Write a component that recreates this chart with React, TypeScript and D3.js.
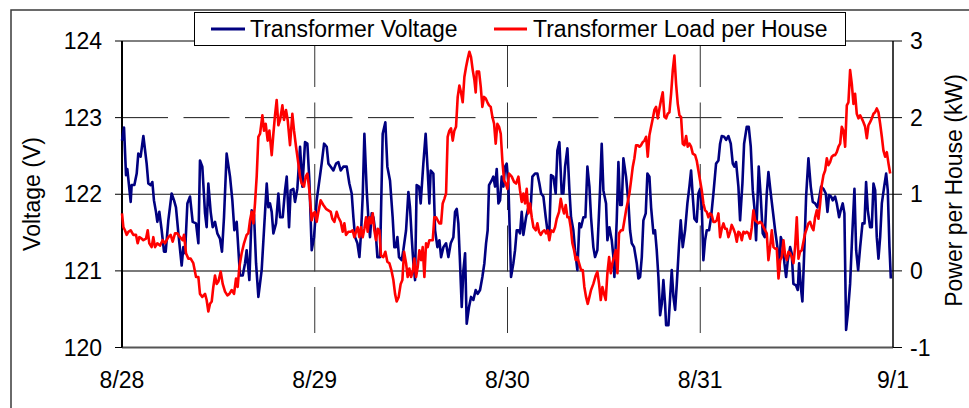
import React from 'react';
import * as d3 from 'd3';

const dayHours = [0, 24, 48, 72, 96];
const dayLabels = ['8/28', '8/29', '8/30', '8/31', '9/1'];
const voltageTicks = [120, 121, 122, 123, 124];
const powerTicks = [-1, 0, 1, 2, 3];
const seriesNames = ['Transformer Voltage', 'Transformer Load per House'];
const axisTitles = ['Voltage (V)', 'Power per House (kW)'];

// [hours since 8/28 00:00, volts]
const voltage: [number, number][] = [
[0,122.70],[0.25,122.87],[0.5,122.25],[0.66,122.33],[1.08,121.90],[1.2,122.12],[1.54,122.12],[1.83,122.27],[2.03,122.53],[2.32,122.49],[2.66,122.76],[3.07,122.40],[3.28,122.14],[3.57,122.12],[3.78,122.16],[3.98,121.92],[4.23,121.77],[4.4,121.64],[4.65,121.77],[4.94,121.53],[5.23,121.25],[5.44,121.25],[5.77,121.66],[6.18,122.01],[6.48,121.92],[6.72,121.83],[7.02,121.49],[7.43,121.07],[7.64,121.31],[7.85,121.23],[8.14,121.88],[8.47,121.97],[8.8,121.64],[9.22,121.62],[9.51,121.36],[9.71,122.44],[10.0,122.36],[10.34,121.75],[10.54,121.57],[10.75,122.14],[11.04,121.77],[11.29,121.57],[11.58,121.64],[11.87,121.49],[12.2,121.42],[12.45,121.25],[12.7,121.70],[13.03,122.53],[13.45,122.23],[13.74,121.92],[13.99,121.53],[14.28,121.64],[14.69,120.94],[15.03,120.94],[15.32,121.10],[15.52,121.27],[15.86,120.88],[16.15,121.79],[16.44,121.73],[16.69,121.10],[16.98,120.66],[17.39,121.01],[17.68,121.53],[18.02,122.14],[18.22,121.83],[18.43,121.88],[18.64,121.77],[18.85,121.49],[19.18,121.62],[19.47,122.01],[19.68,121.70],[20.01,121.70],[20.3,122.05],[20.51,122.23],[20.8,121.57],[21.0,122.05],[21.34,122.07],[21.54,121.90],[21.83,122.07],[22.17,122.62],[22.46,122.10],[22.79,122.68],[23.08,122.66],[23.33,122.18],[23.62,121.27],[23.91,121.44],[24.24,121.92],
[24.86,122.40],[25.16,122.66],[25.49,122.62],[25.7,122.40],[25.99,122.36],[26.32,122.31],[26.65,122.40],[26.94,122.42],[27.23,122.31],[27.56,122.36],[27.98,122.36],[28.31,122.14],[28.6,122.01],[28.81,121.70],[29.02,121.44],[29.31,121.36],[29.56,121.18],[29.76,121.49],[29.97,121.97],[30.18,122.79],[30.47,122.05],[30.67,121.70],[30.88,121.44],[31.09,121.75],[31.3,121.70],[31.63,121.44],[31.8,121.18],[32.13,121.18],[32.46,122.79],[32.79,122.94],[33.04,122.36],[33.37,122.18],[33.7,121.70],[33.91,121.31],[34.12,121.31],[34.29,121.44],[34.49,121.18],[34.83,121.14],[35.03,121.27],[35.37,121.53],[35.66,122.03],[35.86,121.83],[36.07,121.44],[36.28,121.10],[36.49,120.88],[36.69,122.12],[36.99,122.10],[37.19,121.88],[37.52,122.40],[37.81,122.79],[38.06,122.31],[38.27,121.88],[38.44,122.31],[38.77,122.27],[38.98,121.53],[39.27,121.31],[39.52,121.40],[39.73,121.18],[40.02,121.31],[40.35,121.36],[40.64,121.18],[40.93,121.36],[41.26,121.44],[41.47,121.77],[41.68,121.81],[41.88,121.62],[42.09,121.10],[42.3,120.53],[42.51,121.01],[42.72,121.23],[42.92,120.31],[43.21,120.53],[43.46,120.66],[43.75,120.62],[44.04,120.75],[44.29,120.70],[44.58,120.75],[44.87,120.92],[45.12,121.10],[45.33,121.36],[45.53,121.53],[45.7,122.12],[46.03,122.18],[46.24,122.23],[46.45,122.10],[46.66,122.33],[46.87,121.88],[47.07,121.92],[47.28,122.23],[47.49,122.10],[47.7,122.36],[47.9,122.40],[48.11,122.14],
[48.44,120.92],[48.73,121.10],[48.94,121.27],[49.15,121.53],[49.36,121.53],[49.56,121.49],[49.77,121.77],[49.98,121.47],[50.31,121.70],[50.6,121.83],[50.89,121.83],[51.1,122.23],[51.43,122.27],[51.72,122.27],[51.97,122.14],[52.18,122.01],[52.47,121.97],[52.76,121.70],[52.97,121.53],[53.21,121.49],[53.42,122.25],[53.71,122.23],[54.0,122.01],[54.21,122.57],[54.46,122.68],[54.75,122.01],[54.96,122.01],[55.17,122.36],[55.46,122.60],[55.71,122.05],[55.91,121.70],[56.2,121.53],[56.41,121.27],[56.7,121.01],[56.95,121.62],[57.16,121.57],[57.45,121.70],[57.7,121.70],[57.95,122.36],[58.2,122.10],[58.4,121.70],[58.69,121.31],[58.9,121.18],[59.19,121.27],[59.52,122.05],[59.73,122.66],[59.94,122.05],[60.27,121.88],[60.44,121.40],[60.69,121.57],[60.98,121.40],[61.19,121.18],[61.31,120.92],[61.6,121.66],[61.81,122.42],[62.02,121.86],[62.23,121.86],[62.43,122.47],[62.76,122.23],[63.06,121.88],[63.26,121.53],[63.47,121.36],[63.76,121.31],[64.09,121.10],[64.3,120.90],[64.51,120.92],[64.72,121.18],[64.92,121.66],[65.21,121.75],[65.42,122.27],[65.67,122.23],[65.88,121.83],[66.17,121.49],[66.37,121.53],[66.58,121.27],[66.79,120.92],[67.0,120.42],[67.21,120.57],[67.41,120.88],[67.62,120.57],[67.75,120.29],[68.04,120.29],[68.25,120.66],[68.45,121.01],[68.66,120.66],[68.87,120.49],[69.08,120.83],[69.37,121.36],[69.57,121.66],[69.82,121.31],[70.11,121.53],[70.4,121.88],[70.65,122.10],[70.86,122.31],[71.07,121.97],[71.27,121.68],[71.56,121.64],[71.77,122.01],[71.98,122.07],[72.19,121.83],[72.39,121.14],[72.6,121.40],[72.81,121.53],[73.1,121.53],[73.35,121.70],[73.64,122.01],[73.97,122.40],[74.26,122.44],[74.47,122.66],
[74.68,122.76],[74.97,122.75],[75.22,122.71],[75.51,122.76],[75.8,122.66],[76.05,122.40],[76.25,122.36],[76.46,122.42],[76.75,122.10],[76.96,121.66],[77.25,122.14],[77.46,122.66],[77.79,122.88],[78.04,122.88],[78.29,122.62],[78.54,122.05],[78.74,121.83],[78.95,121.40],[79.28,122.36],[79.53,121.97],[79.78,121.49],[80.03,121.44],[80.28,122.01],[80.49,122.29],[80.78,122.01],[81.03,121.79],[81.32,121.53],[81.61,121.31],[81.86,121.01],[82.03,121.44],[82.28,121.36],[82.48,121.10],[82.69,120.92],[82.9,121.14],[83.19,121.31],[83.39,121.23],[83.6,120.83],[83.93,120.81],[84.14,120.75],[84.31,121.10],[84.52,120.79],[84.72,120.60],[84.97,121.31],[85.18,121.97],[85.47,122.47],[85.76,122.10],[86.01,121.90],[86.3,121.88],[86.59,121.83],[86.84,121.97],[87.05,122.10],[87.34,122.07],[87.63,122.01],[87.84,121.77],[88.04,121.99],[88.29,121.97],[88.5,121.92],[88.79,121.97],[89.0,121.88],[89.29,121.70],[89.49,121.79],[89.74,121.88],[89.95,121.75],[90.16,120.23],[90.37,120.44],[90.66,120.83],[90.91,121.44],[91.2,122.07],[91.41,121.27],[91.66,121.01],[91.91,121.31],[92.2,121.62],[92.45,121.62],[92.65,122.16],[92.86,121.79],[93.15,121.57],[93.36,121.57],[93.57,122.14],[93.78,122.05],[93.98,121.44],[94.19,121.16],[94.4,121.44],[94.61,121.88],[94.9,122.10],[95.15,122.27],[95.35,122.05],[95.56,121.31],[95.73,120.90]
];

// [hours since 8/28 00:00, kW per house]
const load: [number, number][] = [
[0,0.75],[0.17,0.57],[0.37,0.53],[0.58,0.47],[0.79,0.51],[1.08,0.53],[1.41,0.47],[1.74,0.47],[1.95,0.36],[2.16,0.44],[2.45,0.42],[2.66,0.40],[2.99,0.42],[3.2,0.53],[3.4,0.36],[3.69,0.31],[3.9,0.44],[4.11,0.31],[4.4,0.36],[4.73,0.33],[5.06,0.40],[5.35,0.36],[5.77,0.44],[6.06,0.47],[6.31,0.38],[6.6,0.49],[6.89,0.49],[7.22,0.44],[7.55,0.40],[7.72,0.47],[7.97,0.23],[8.26,0.16],[8.55,0.16],[8.88,0.10],[9.22,-0.08],[9.51,-0.08],[9.71,-0.30],[10.0,-0.34],[10.34,-0.30],[10.54,-0.38],[10.75,-0.53],[10.96,-0.43],[11.17,-0.40],[11.37,-0.21],[11.58,-0.06],[11.79,-0.17],[12.0,-0.14],[12.29,-0.01],[12.54,-0.17],[12.83,-0.27],[13.12,-0.32],[13.37,-0.30],[13.66,-0.25],[13.95,-0.30],[14.2,-0.10],[14.4,-0.21],[14.61,0.05],[14.9,0.23],[15.19,0.36],[15.52,0.47],[15.73,0.49],[15.94,0.66],[16.15,0.77],[16.36,0.62],[16.56,0.88],[16.77,1.23],[16.98,1.75],[17.19,1.79],[17.48,2.03],[17.68,1.83],[17.89,1.92],[18.14,1.70],[18.35,1.83],[18.64,1.51],[18.85,1.79],[19.05,2.03],[19.26,2.23],[19.47,1.90],[19.68,1.97],[19.97,2.16],[20.17,1.97],[20.42,2.10],[20.63,1.97],[20.92,1.64],[21.21,2.05],[21.42,1.83],[21.67,1.62],[21.96,1.40],[22.17,1.23],[22.37,1.14],[22.66,1.10],[22.87,1.23],[23.08,1.27],[23.33,1.05],[23.62,0.66],[23.83,0.75],[24.03,0.77],[24.24,0.64],[24.45,0.77],
[24.74,0.92],[25.07,0.86],[25.4,0.81],[25.69,0.79],[25.99,0.77],[26.19,0.68],[26.44,0.64],[26.73,0.77],[26.94,0.70],[27.23,0.64],[27.48,0.51],[27.69,0.62],[27.89,0.47],[28.19,0.51],[28.48,0.51],[28.72,0.53],[28.93,0.44],[29.14,0.51],[29.35,0.57],[29.56,0.44],[29.76,0.57],[29.97,0.44],[30.18,0.55],[30.39,0.70],[30.59,0.51],[30.8,0.70],[31.01,0.62],[31.22,0.75],[31.42,0.53],[31.63,0.40],[31.84,0.55],[32.05,0.53],[32.25,0.20],[32.54,0.18],[32.79,0.25],[33.04,0.12],[33.29,0.10],[33.54,0.01],[33.79,-0.12],[34.0,-0.30],[34.2,-0.40],[34.45,-0.34],[34.7,-0.17],[34.91,-0.12],[35.12,0.25],[35.37,0.10],[35.57,-0.08],[35.78,0.03],[35.99,-0.08],[36.2,-0.01],[36.4,0.16],[36.61,-0.08],[36.82,0.05],[37.03,0.27],[37.24,0.14],[37.44,0.31],[37.65,-0.08],[37.86,0.36],[38.06,0.31],[38.27,0.40],[38.48,0.40],[38.69,0.40],[38.89,0.70],[39.1,0.70],[39.31,0.66],[39.52,0.62],[39.73,0.62],[39.93,0.88],[40.14,0.94],[40.35,1.01],[40.55,1.75],[40.76,1.83],[40.97,1.86],[41.18,1.70],[41.38,1.83],[41.59,1.88],[41.8,2.27],[42.01,2.42],[42.21,2.33],[42.42,2.20],[42.63,2.53],[42.84,2.66],[43.05,2.77],[43.25,2.86],[43.46,2.79],[43.67,2.62],[43.88,2.49],[44.04,2.33],[44.17,2.60],[44.46,2.60],[44.67,2.40],[44.87,2.14],[45.08,2.27],[45.29,2.25],[45.5,2.20],[45.7,2.16],[45.91,2.14],[46.12,2.01],[46.33,1.92],[46.53,1.66],[46.74,1.92],[46.95,1.88],[47.16,1.79],[47.36,1.44],[47.57,1.18],[47.78,1.14],[47.99,1.07],
[48.19,1.27],[48.53,1.23],[48.82,1.16],[49.07,1.14],[49.36,1.23],[49.56,1.05],[49.77,0.90],[49.98,1.01],[50.19,0.88],[50.39,1.07],[50.6,0.75],[50.81,0.88],[51.02,0.70],[51.23,0.57],[51.52,0.53],[51.72,0.62],[51.93,0.51],[52.14,0.47],[52.35,0.51],[52.6,0.53],[52.8,0.49],[53.01,0.53],[53.21,0.40],[53.42,0.53],[53.71,0.51],[53.92,0.57],[54.13,0.68],[54.42,0.77],[54.63,0.94],[54.83,0.83],[55.04,0.75],[55.25,0.86],[55.46,0.70],[55.67,0.70],[55.87,0.57],[56.08,0.36],[56.29,0.27],[56.5,0.14],[56.7,0.18],[56.91,0.10],[57.16,0.01],[57.37,0.01],[57.57,-0.21],[57.78,-0.34],[57.99,-0.43],[58.2,-0.34],[58.4,-0.25],[58.69,-0.17],[58.99,-0.06],[59.19,-0.01],[59.4,-0.17],[59.61,-0.38],[59.82,-0.21],[60.02,-0.30],[60.23,-0.38],[60.44,-0.03],[60.65,0.18],[60.86,-0.03],[61.06,0.10],[61.27,0.18],[61.48,0.27],[61.69,-0.03],[61.89,0.49],[62.14,0.53],[62.35,0.53],[62.56,0.66],[62.76,0.79],[62.97,0.90],[63.18,1.01],[63.39,1.18],[63.6,1.36],[63.8,1.47],[64.01,1.64],[64.22,1.64],[64.43,1.62],[64.63,1.64],[64.84,1.68],[65.05,1.70],[65.26,1.75],[65.46,1.49],[65.67,1.77],[65.88,1.88],[66.09,1.99],[66.29,2.10],[66.5,2.14],[66.71,1.99],[66.92,2.12],[67.12,2.23],[67.33,2.33],[67.54,2.01],[67.75,1.99],[67.95,2.05],[68.16,2.07],[68.37,2.31],[68.58,2.62],[68.78,2.81],[68.99,2.44],[69.2,2.18],[69.41,2.03],[69.61,2.01],[69.82,1.66],[70.03,1.64],[70.24,1.76],[70.44,1.62],[70.65,1.66],[70.86,1.62],[71.07,1.53],[71.36,1.51],[71.56,1.44],[71.77,1.31],[71.98,1.18],[72.19,1.05],[72.39,0.88],
[72.6,0.79],[72.81,0.77],[73.02,0.70],[73.22,0.75],[73.43,0.73],[73.64,0.64],[73.85,0.64],[74.05,0.66],[74.26,0.75],[74.47,0.44],[74.68,0.55],[74.89,0.62],[75.09,0.55],[75.3,0.55],[75.51,0.44],[75.72,0.51],[75.92,0.60],[76.13,0.55],[76.34,0.49],[76.55,0.38],[76.75,0.51],[76.96,0.49],[77.17,0.40],[77.38,0.51],[77.59,0.49],[77.79,0.51],[78.0,0.49],[78.21,0.42],[78.42,0.57],[78.62,0.79],[78.83,0.66],[79.04,0.64],[79.25,0.62],[79.45,0.64],[79.66,0.62],[79.87,0.57],[80.08,0.53],[80.28,0.49],[80.49,0.14],[80.7,0.31],[80.91,0.53],[81.12,0.31],[81.32,0.29],[81.53,0.29],[81.74,-0.10],[81.95,0.14],[82.15,0.18],[82.36,0.40],[82.57,0.20],[82.78,0.14],[82.98,0.25],[83.19,0.23],[83.4,0.18],[83.61,0.10],[83.81,0.31],[84.02,0.70],[84.23,0.16],[84.43,0.25],[84.64,0.27],[84.85,0.38],[85.06,0.49],[85.26,0.55],[85.47,0.62],[85.68,0.64],[85.89,0.57],[86.09,0.53],[86.3,0.70],[86.51,0.79],[86.72,0.68],[86.93,0.88],[87.13,1.12],[87.34,1.25],[87.55,1.31],[87.76,1.47],[87.96,1.38],[88.17,1.42],[88.38,1.49],[88.59,1.51],[88.79,1.51],[89.0,1.55],[89.21,1.62],[89.42,1.66],[89.62,1.88],[89.83,1.83],[90.04,1.62],[90.25,2.16],[90.45,2.20],[90.66,2.62],[90.87,2.44],[91.08,2.18],[91.28,2.31],[91.49,2.05],[91.7,1.99],[91.91,2.03],[92.11,1.99],[92.32,1.94],[92.53,1.88],[92.74,1.73],[92.94,1.90],[93.15,1.94],[93.36,1.99],[93.57,2.05],[93.77,2.07],[93.98,2.12],[94.19,2.07],[94.4,1.92],[94.61,1.75],[94.81,1.57],[95.02,1.49],[95.23,1.55],[95.44,1.40],[95.65,1.27]
];

export default function App() {
  const W = 969, H = 408;
  const left = 122, right = 893, top = 41, bottom = 347.5;
  const x = d3.scaleLinear().domain([0, 96]).range([left, right]);
  const yV = d3.scaleLinear().domain([120, 124]).range([bottom, top]);
  const yP = d3.scaleLinear().domain([-1, 3]).range([bottom, top]);
  const lineV = d3.line<[number, number]>().x(d => x(d[0])).y(d => yV(d[1]));
  const lineP = d3.line<[number, number]>().x(d => x(d[0])).y(d => yP(d[1]));
  const font = "'Liberation Sans', Arial, Helvetica, sans-serif";
  const dash = '46 15.5';
  const blue = '#000080';
  const red = '#ff0000';

  return (
    <svg width={W} height={H} style={{ position: 'absolute', left: 0, top: 0, background: '#fff' }} fontFamily={font}>
      <rect x={0} y={0} width={W} height={H} fill="#fff" />
      {/* chart area border */}
      <rect x={11} y={10} width={W + 20} height={H + 20} fill="none" stroke="#3a3a3a" strokeWidth={1.5} />

      {/* horizontal gridlines */}
      {voltageTicks.filter(v => v > 120 && v < 124).map(v => {
        const yy = yV(v);
        const isDashed = v === 123;
        const isGray = v === 121;
        return (
          <line key={'h' + v} x1={left} x2={right} y1={yy} y2={yy}
            stroke={isGray ? '#7a7a7a' : '#1a1a1a'} strokeWidth={isGray ? 2 : 1}
            strokeDasharray={isDashed ? dash : undefined} />
        );
      })}
      {/* vertical gridlines */}
      {dayHours.slice(1, -1).map(h => (
        <line key={'v' + h} x1={x(h)} x2={x(h)} y1={top} y2={bottom}
          stroke="#333" strokeWidth={1} strokeDasharray={dash} />
      ))}

      {/* plot frame */}
      <line x1={left} x2={right} y1={top} y2={top} stroke="#000" strokeWidth={1} />
      <line x1={left} x2={right} y1={bottom} y2={bottom} stroke="#555" strokeWidth={2} />
      <line x1={right} x2={right} y1={top} y2={bottom} stroke="#000" strokeWidth={1.5} />
      <line x1={left} x2={left} y1={top} y2={bottom} stroke="#000" strokeWidth={2} />

      {/* left ticks and labels */}
      {voltageTicks.map(v => (
        <g key={'lt' + v}>
          <line x1={left - 7} x2={left} y1={yV(v)} y2={yV(v)} stroke="#000" strokeWidth={1} />
          <text x={102} y={yV(v)} dy="0.35em" textAnchor="end" fontSize={23} fill="#000">{v}</text>
        </g>
      ))}
      {/* right ticks and labels */}
      {powerTicks.map(p => (
        <g key={'rt' + p}>
          <line x1={right} x2={right + 9} y1={yP(p)} y2={yP(p)} stroke="#000" strokeWidth={1} />
          <text x={910} y={yP(p)} dy="0.35em" textAnchor="start" fontSize={23} fill="#000">{p}</text>
        </g>
      ))}
      {/* x labels */}
      {dayHours.map((h, i) => (
        <text key={'xl' + h} x={x(h)} y={388} textAnchor="middle" fontSize={23} fill="#000">{dayLabels[i]}</text>
      ))}

      {/* axis titles */}
      <text transform={`translate(40,194) rotate(-90)`} textAnchor="middle" fontSize={23} fill="#000">{axisTitles[0]}</text>
      <text transform={`translate(962,190.5) rotate(-90)`} textAnchor="middle" fontSize={23} fill="#000">{axisTitles[1]}</text>

      {/* series */}
      <path d={lineV(voltage) || ''} fill="none" stroke={blue} strokeWidth={2.6} strokeLinejoin="round" />
      <path d={lineP(load) || ''} fill="none" stroke={red} strokeWidth={2.6} strokeLinejoin="round" />

      {/* legend */}
      <rect x={194.5} y={12.5} width={651} height={33} fill="#fff" stroke="#000" strokeWidth={1} />
      <line x1={211} x2={245} y1={29} y2={29} stroke={blue} strokeWidth={3} />
      <text x={250} y={37} fontSize={23} fill="#000">{seriesNames[0]}</text>
      <line x1={494} x2={527} y1={29} y2={29} stroke={red} strokeWidth={3} />
      <text x={533} y={37} fontSize={23} fill="#000">{seriesNames[1]}</text>
    </svg>
  );
}
